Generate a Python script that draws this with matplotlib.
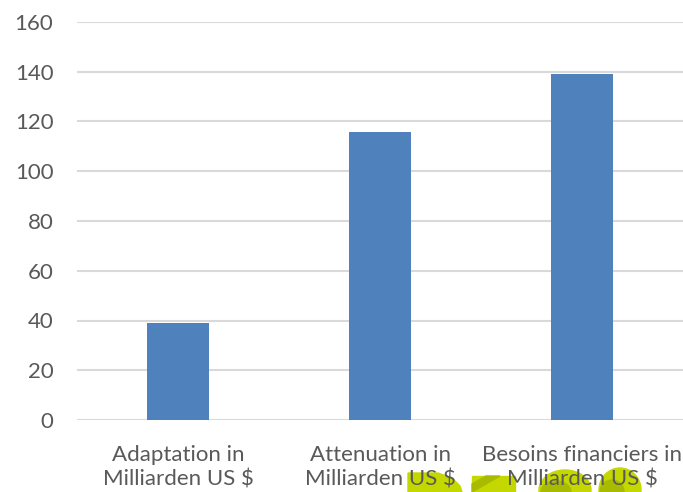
import matplotlib.pyplot as plt
from matplotlib.patches import Polygon, Rectangle, Ellipse

# Finanzbedarf (Milliarden US $)
categories = ["Adaptation in\nMilliarden US $",
              "Attenuation in\nMilliarden US $",
              "Besoins financiers in\nMilliarden US $"]
values = [39, 115.8, 139.2]
y_ticks = [0, 20, 40, 60, 80, 100, 120, 140, 160]

BAR_COLOR = "#4f81bd"
GRID_COLOR = "#d9d9d9"
TEXT_COLOR = "#595959"
LIME = "#c4d800"
LIME_DARK = "#a9bb00"

plt.rcParams['font.family'] = ['Lato', 'DejaVu Sans']

W, H = 683, 492
fig = plt.figure(figsize=(W / 100, H / 100), dpi=100)
ax = fig.add_axes([77 / W, (H - 420) / H, (683 - 77) / W, (420 - 22) / H])

x = range(len(categories))
ax.bar(x, values, width=0.31, color=BAR_COLOR, zorder=3)

ax.set_xlim(-0.5, len(categories) - 0.5)
ax.set_ylim(0, 160)
ax.set_yticks(y_ticks)
ax.set_xticks(list(x))
ax.set_xticklabels(categories, linespacing=1.3)
ax.tick_params(axis='both', length=0, labelsize=16, colors=TEXT_COLOR)
ax.tick_params(axis='y', pad=17)
ax.tick_params(axis='x', pad=18)
ax.grid(axis='y', color=GRID_COLOR, linewidth=1.5)
ax.set_axisbelow(True)
for s in ax.spines.values():
    s.set_visible(False)


# cut-off logo shapes under the bottom labels (pixel coords, top-left origin)
def px(xp, yp):
    return (xp / W, (H - yp) / H)


tf = fig.transFigure
shapes = [
    Polygon([px(408, 492), px(408, 473), px(438, 473), px(452, 478),
             px(460, 486), px(462, 492)], closed=True, color=LIME),
    Rectangle(px(472, 492), 43 / W, 16 / H, color=LIME),
    Polygon([px(472, 492), px(472, 484), px(486, 476), px(500, 476)],
            closed=True, color=LIME_DARK),
    Ellipse(px(565, 490), 52 / W, 40 / H, color=LIME),
    Ellipse(px(556, 492), 30 / W, 22 / H, color=LIME_DARK),
    Ellipse(px(620, 490), 42 / W, 44 / H, color=LIME),
    Ellipse(px(612, 492), 24 / W, 24 / H, color=LIME_DARK),
]
for p in shapes:
    p.set_transform(tf)
    p.set_zorder(-1)
    fig.add_artist(p)

fig.savefig("out.png", dpi=100, facecolor="white")
